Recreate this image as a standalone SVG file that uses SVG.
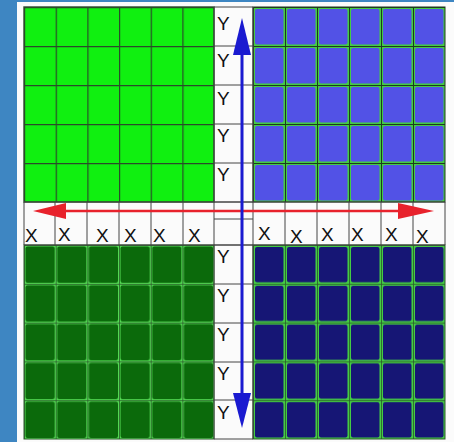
<svg xmlns="http://www.w3.org/2000/svg" width="454" height="442" viewBox="0 0 454 442">
<style>
.lbl{font-family:"Liberation Sans",Arial,sans-serif;font-size:19px;fill:#111;}
.ln{stroke:#444;stroke-width:1;fill:none;}
</style>
<defs>
<pattern id="pG" patternUnits="userSpaceOnUse" x="24" y="7" width="31.67" height="39">
<rect width="31.67" height="39" fill="#10f010"/>
<path d="M0 0.5H31.67M0.5 0V39" stroke="#2a4a2a" stroke-width="1.4"/>
</pattern>
<pattern id="pB" patternUnits="userSpaceOnUse" x="253" y="7" width="32" height="39">
<rect width="32" height="39" fill="#44cc44"/>
<rect x="2" y="2" width="28.5" height="35.5" rx="2" fill="#5252e6"/>
<path d="M0 0.5H32M0.5 0V39" stroke="#1e3a1e" stroke-width="1"/>
</pattern>
<pattern id="pD" patternUnits="userSpaceOnUse" x="24" y="245" width="31.67" height="38.8">
<rect width="31.67" height="38.8" fill="#55dd55"/>
<rect x="1.5" y="1.5" width="29.2" height="36.3" rx="2" fill="#0b6a0b"/>
<path d="M0 0.5H31.67M0.5 0V38.8" stroke="#2a5a2a" stroke-width="0.8"/>
</pattern>
<pattern id="pN" patternUnits="userSpaceOnUse" x="253" y="245" width="32" height="38.8">
<rect width="32" height="38.8" fill="#44cc44"/>
<rect x="2" y="2" width="28.5" height="35.3" rx="2" fill="#161675"/>
<path d="M0 0.5H32M0.5 0V38.8" stroke="#2a5a2a" stroke-width="0.8"/>
</pattern>
</defs>
<rect width="454" height="442" fill="#3e86c2"/>
<rect x="17" y="2" width="437" height="440" fill="#fbfbfb"/>
<g id="quad-top-left"><rect x="24" y="7" width="190" height="195" fill="url(#pG)" stroke="#2a4a2a" stroke-width="1.4"/></g>
<g id="quad-top-right"><rect x="253" y="7" width="192" height="195" fill="url(#pB)" stroke="#1e3a1e" stroke-width="1"/></g>
<g id="quad-bottom-left"><rect x="24" y="245" width="190" height="194" fill="url(#pD)" stroke="#2a5a2a" stroke-width="1"/></g>
<g id="quad-bottom-right"><rect x="253" y="245" width="192" height="194" fill="url(#pN)" stroke="#2a5a2a" stroke-width="1"/></g>
<g id="y-column">
<path class="ln" d="M214 7V439M253 7V439M214 7H253M214 46H253M214 85H253M214 124H253M214 163H253M214 202H253M214 219H253M214 245H253M214 284H253M214 323H253M214 362H253M214 400H253M214 439H253"/>
<text class="lbl" x="217" y="30">Y</text>
<text class="lbl" x="217" y="67">Y</text>
<text class="lbl" x="217" y="105">Y</text>
<text class="lbl" x="217" y="142">Y</text>
<text class="lbl" x="217" y="181">Y</text>
<text class="lbl" x="217" y="263">Y</text>
<text class="lbl" x="217" y="302">Y</text>
<text class="lbl" x="217" y="341">Y</text>
<text class="lbl" x="217" y="380">Y</text>
<text class="lbl" x="217" y="419">Y</text>
</g>
<g id="x-row">
<path class="ln" d="M24 202H445M24 245H445M24 202V245M55 202V245M87 202V245M119 202V245M151 202V245M183 202V245M285 202V245M317 202V245M349 202V245M381 202V245M413 202V245M445 202V245"/>
<text class="lbl" x="25" y="242">X</text>
<text class="lbl" x="58" y="241">X</text>
<text class="lbl" x="96" y="242">X</text>
<text class="lbl" x="124" y="242">X</text>
<text class="lbl" x="153" y="242">X</text>
<text class="lbl" x="188" y="242">X</text>
<text class="lbl" x="258" y="240">X</text>
<text class="lbl" x="290" y="243">X</text>
<text class="lbl" x="321" y="241">X</text>
<text class="lbl" x="351" y="241">X</text>
<text class="lbl" x="385" y="241">X</text>
<text class="lbl" x="416" y="243">X</text>
</g>
<g id="connectors">
<line x1="60" y1="211" x2="402" y2="211" stroke="#e8222c" stroke-width="2.5"/>
<polygon points="33,211 66,203 66,219" fill="#e8222c"/>
<polygon points="434,211 398,203 398,219" fill="#e8222c"/>
<line x1="242" y1="50" x2="242" y2="398" stroke="#1a1ad0" stroke-width="3"/>
<polygon points="242,18 233,55 251,55" fill="#1a1ad0"/>
<polygon points="242,428 233,393 251,393" fill="#1a1ad0"/>
</g>
</svg>
